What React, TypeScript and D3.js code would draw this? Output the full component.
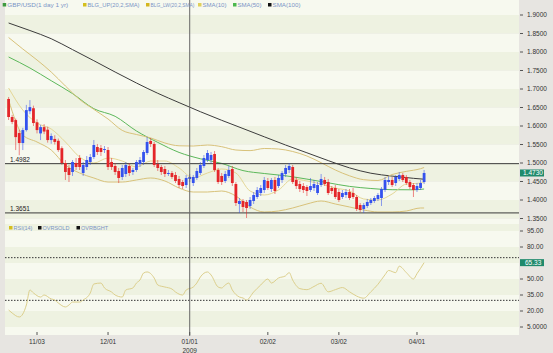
import React from "react";
import * as d3 from "d3";

// GBP/USD daily candles, Oct 22 2008 .. Apr 3 2009 (bar index 0..117)
const open = [
  1.673, 1.6243, 1.616, 1.581, 1.554, 1.589, 1.64, 1.648, 1.61, 1.58,
  1.597, 1.59, 1.562, 1.565, 1.56, 1.54, 1.5, 1.4865, 1.4757, 1.5,
  1.5135, 1.473, 1.4892, 1.5027, 1.5162, 1.5432, 1.5405, 1.5351, 1.5351, 1.5027,
  1.4919, 1.4784, 1.4622, 1.4703, 1.4919, 1.4757, 1.4811, 1.4973, 1.5027, 1.527,
  1.5595, 1.5514, 1.4973, 1.4892, 1.4838, 1.4703, 1.473, 1.4676, 1.4568, 1.4486,
  1.4405, 1.4568, 1.4459, 1.4595, 1.473, 1.4919, 1.5081, 1.5081, 1.5243, 1.4811,
  1.4649, 1.4514, 1.4649, 1.4838, 1.4432, 1.3892, 1.3973, 1.3946, 1.3838, 1.3973,
  1.4081, 1.4189, 1.427, 1.4514, 1.4297, 1.4541, 1.4378, 1.4541, 1.4703, 1.4811,
  1.4892, 1.4541, 1.4432, 1.4378, 1.4351, 1.427, 1.4324, 1.4189, 1.4405, 1.4541,
  1.4486, 1.4324, 1.4324, 1.4216, 1.4081, 1.4135, 1.4216, 1.4189, 1.4081, 1.3865,
  1.3757, 1.3838, 1.3919, 1.3973, 1.4027, 1.4054, 1.427, 1.4486, 1.4541, 1.4459,
  1.4568, 1.4676, 1.4622, 1.4486, 1.4405, 1.427, 1.4324, 1.4486,
];
const high = [
  1.6784, 1.63, 1.62, 1.59, 1.595, 1.657, 1.67, 1.655, 1.618, 1.603,
  1.605, 1.598, 1.58, 1.575, 1.566, 1.545, 1.5081, 1.4946, 1.5081, 1.5135,
  1.5216, 1.5027, 1.5189, 1.5243, 1.5622, 1.5514, 1.5486, 1.5459, 1.5432, 1.5135,
  1.5, 1.4865, 1.4946, 1.5027, 1.5, 1.4865, 1.5081, 1.5162, 1.5351, 1.5703,
  1.5676, 1.5568, 1.5081, 1.4946, 1.4919, 1.4811, 1.4784, 1.4757, 1.4649, 1.4541,
  1.4676, 1.4703, 1.4676, 1.4865, 1.5027, 1.5216, 1.5351, 1.5297, 1.5324, 1.4865,
  1.473, 1.4784, 1.4919, 1.4919, 1.4486, 1.4054, 1.4027, 1.4, 1.4081, 1.4216,
  1.4351, 1.4405, 1.4622, 1.4595, 1.4595, 1.4622, 1.4676, 1.4784, 1.4946, 1.5,
  1.4946, 1.4622, 1.4514, 1.4459, 1.4405, 1.4595, 1.4541, 1.4486, 1.4703, 1.4622,
  1.4568, 1.4378, 1.4405, 1.4297, 1.427, 1.4297, 1.4297, 1.4324, 1.4135, 1.3919,
  1.3919, 1.4027, 1.4054, 1.4108, 1.4189, 1.4351, 1.4622, 1.4649, 1.4622, 1.4676,
  1.4757, 1.473, 1.4676, 1.4541, 1.4459, 1.4459, 1.4541, 1.4811,
];
const low = [
  1.6162, 1.605, 1.535, 1.521, 1.535, 1.585, 1.632, 1.6, 1.58, 1.562,
  1.578, 1.555, 1.552, 1.55, 1.53, 1.495, 1.4541, 1.4486, 1.4649, 1.4811,
  1.4811, 1.4649, 1.4811, 1.4946, 1.5108, 1.5216, 1.5189, 1.527, 1.4811, 1.4811,
  1.4676, 1.4459, 1.4541, 1.4622, 1.4649, 1.4676, 1.4757, 1.4892, 1.4946, 1.5216,
  1.5432, 1.4892, 1.4784, 1.4676, 1.4622, 1.4649, 1.4568, 1.4459, 1.4324, 1.4297,
  1.4324, 1.4486, 1.4378, 1.4541, 1.4676, 1.4865, 1.5027, 1.5, 1.4757, 1.4432,
  1.4405, 1.4459, 1.4595, 1.4378, 1.3838, 1.3649, 1.3676, 1.3514, 1.3757, 1.3892,
  1.4027, 1.4108, 1.4189, 1.427, 1.4216, 1.4162, 1.4324, 1.4459, 1.4622, 1.473,
  1.4432, 1.4297, 1.4216, 1.4189, 1.4108, 1.4216, 1.4243, 1.4135, 1.4351, 1.4378,
  1.4135, 1.4162, 1.4027, 1.3946, 1.4027, 1.4054, 1.4, 1.4027, 1.3703, 1.3676,
  1.3649, 1.3784, 1.3865, 1.3919, 1.3973, 1.3838, 1.4216, 1.4405, 1.4351, 1.4378,
  1.4514, 1.4486, 1.4405, 1.4297, 1.4081, 1.4216, 1.427, 1.4432,
];
const close = [
  1.6243, 1.611, 1.57, 1.554, 1.589, 1.643, 1.651, 1.608, 1.589, 1.597,
  1.585, 1.562, 1.573, 1.557, 1.535, 1.5, 1.4757, 1.4676, 1.5027, 1.4892,
  1.4892, 1.4946, 1.5081, 1.5162, 1.5486, 1.5297, 1.5297, 1.5378, 1.4892, 1.4892,
  1.4757, 1.4595, 1.4865, 1.4946, 1.473, 1.4811, 1.5027, 1.5081, 1.5297, 1.5568,
  1.5514, 1.4946, 1.4865, 1.4757, 1.4703, 1.473, 1.4622, 1.4514, 1.4405, 1.4378,
  1.4595, 1.4622, 1.4622, 1.4784, 1.4946, 1.5135, 1.527, 1.5216, 1.4811, 1.4486,
  1.4486, 1.4703, 1.4811, 1.4459, 1.3919, 1.3973, 1.3811, 1.3784, 1.4, 1.4135,
  1.427, 1.4324, 1.4541, 1.4324, 1.4541, 1.4243, 1.4595, 1.473, 1.4865, 1.4919,
  1.4486, 1.4378, 1.4297, 1.427, 1.4243, 1.4378, 1.4432, 1.4405, 1.4568, 1.4432,
  1.4189, 1.4243, 1.4081, 1.4, 1.4189, 1.4216, 1.4054, 1.4081, 1.3757, 1.373,
  1.3865, 1.3946, 1.4, 1.4054, 1.4135, 1.4297, 1.4541, 1.4541, 1.4405, 1.4622,
  1.4676, 1.4541, 1.4459, 1.4351, 1.427, 1.4378, 1.4459, 1.473,
];

// indicator readings (bar index -> value)
const bandBars = [0, 4, 8, 12, 16, 20, 24, 28, 32, 36, 40, 44, 48, 52, 56, 60, 64, 68, 72, 76, 80, 84, 88, 92, 96, 100, 104, 108, 112, 116, 117];
const bollUpper = [
  1.8392, 1.8081, 1.7784, 1.7459, 1.7081, 1.6716, 1.6449, 1.6189, 1.5881, 1.577,
  1.5678, 1.5541, 1.5465, 1.5459, 1.5486, 1.5441, 1.5351, 1.5335, 1.5392, 1.5378,
  1.5311, 1.5189, 1.5008, 1.4811, 1.4654, 1.4549, 1.4527, 1.4689, 1.4773, 1.4846, 1.4878,
];
const bollLower = [
  1.6703, 1.5757, 1.5568, 1.5351, 1.4946, 1.473, 1.4595, 1.4486, 1.4486, 1.4541,
  1.4595, 1.4514, 1.4324, 1.4216, 1.4216, 1.4243, 1.4108, 1.3811, 1.3676, 1.3703,
  1.3784, 1.3892, 1.3973, 1.3892, 1.3811, 1.373, 1.3676, 1.3676, 1.3703, 1.3784, 1.3784,
];
const sma10 = [
  1.7027, 1.6432, 1.6081, 1.5919, 1.5568, 1.5162, 1.5, 1.5135, 1.5054, 1.4892,
  1.5054, 1.5054, 1.4865, 1.4595, 1.473, 1.4838, 1.473, 1.4243, 1.4135, 1.427,
  1.4568, 1.4514, 1.4432, 1.4324, 1.4243, 1.4027, 1.4, 1.4162, 1.4432, 1.4459, 1.4486,
];
const smaBars = [0, 6, 12, 18, 24, 30, 36, 42, 48, 54, 60, 66, 72, 78, 84, 90, 96, 102, 108, 114, 117];
const sma50 = [
  1.7865, 1.7568, 1.7224, 1.6876, 1.6468, 1.6262, 1.5865, 1.5557, 1.5286, 1.5114,
  1.4989, 1.4795, 1.4716, 1.4654, 1.4565, 1.4465, 1.4368, 1.4311, 1.4278, 1.4276, 1.4297,
];
const sma100 = [
  1.8784, 1.8581, 1.8359, 1.8065, 1.7765, 1.7459, 1.7162, 1.6884, 1.6632, 1.6386,
  1.6154, 1.5932, 1.5708, 1.5486, 1.5276, 1.5065, 1.4868, 1.4724, 1.4646, 1.4586, 1.4562,
];
const rsiBars = [
  0, 1, 3, 5, 6, 7, 9, 10, 12, 13, 14, 16, 17, 18, 20, 21, 23, 24, 26, 27,
  29, 30, 32, 33, 35, 36, 37, 38, 39, 41, 42, 44, 46, 47, 49, 50, 52, 53, 54, 56,
  57, 59, 60, 61, 62, 63, 65, 66, 67, 69, 71, 73, 74, 76, 78, 79, 80, 82, 84, 86,
  88, 90, 92, 94, 96, 98, 100, 102, 104, 106, 107, 109, 110, 112, 114, 115, 116, 117,
];
const rsi14 = [
  20.9, 18.1, 14.4, 25.6, 39.7, 36.9, 33.1, 35.0, 31.3, 30.3, 27.5, 23.8, 25.6, 28.4, 28.4, 30.3, 36.9, 45.3, 46.2, 41.6,
  37.8, 35.0, 33.1, 39.7, 41.6, 46.2, 49.1, 55.6, 56.6, 50.9, 44.4, 42.5, 40.6, 37.8, 35.0, 39.7, 42.5, 46.2, 51.9, 56.6,
  53.8, 42.5, 41.6, 44.4, 46.2, 39.7, 33.1, 32.2, 30.3, 37.8, 44.4, 50.0, 46.2, 50.9, 53, 56, 49, 41, 40, 43,
  46, 38, 40, 42, 38, 34, 32, 38, 45, 54, 58, 56, 62, 56, 50, 55, 60, 65.33,
];

const levelValues = [1.4982, 1.3651];
const rsiLevels = [70, 30];
const priceTicks = [1.35, 1.4, 1.45, 1.5, 1.55, 1.6, 1.65, 1.7, 1.75, 1.8, 1.85, 1.9];
const rsiTicks = [5, 20, 35, 50, 65, 80, 95];
const dateLabels = ["11/03", "12/01", "01/01", "02/02", "03/02", "04/01"];
const dateBars = [8, 28, 51, 73, 93, 115];
const legendLabels = ["GBP/USD(1 day  1 yr)", "BLG_UP(20,2,SMA)", "BLG_LW(20,2,SMA)", "SMA(10)", "SMA(50)", "SMA(100)"];
const rsiLegendLabels = ["RSI(14)", "OVRSOLD", "OVRBGHT"];

const FONT = "'Liberation Sans', Arial, sans-serif";

export default function App() {
  const plotL = 5, plotR = 519, priceTop = 0, priceBot = 224, rsiBot = 335;

  const x = d3.scaleLinear().domain([0, 117]).range([8.6, 424.1]);
  const y = d3.scaleLinear().domain([1.35, 1.9]).range([218.5, 15]);
  const yr = d3.scaleLinear().domain([5, 95]).range([327, 231]);

  const lineOf = (bars: number[], scale: (v: number) => number) =>
    d3
      .line<number>()
      .x((_, k) => x(bars[k]))
      .y((v) => scale(v))
      .curve(d3.curveMonotoneX);

  // alternating background stripes
  const priceBands = d3.range(1.3, 1.95, 0.05).map((v, k) => {
    const y0 = Math.max(priceTop, y(v + 0.05));
    const y1 = Math.min(priceBot, y(v));
    return { y0, y1, k };
  }).filter((b) => b.y1 > b.y0);
  const rsiBands = d3.range(-10, 110, 15).map((v, k) => {
    const y0 = Math.max(priceBot, yr(v + 15));
    const y1 = Math.min(rsiBot, yr(v));
    return { y0, y1, k };
  }).filter((b) => b.y1 > b.y0);

  const legendX = [2.7, 83, 146, 198, 233, 268];
  const legendW = [61, 52, 44, 24, 24, 28];
  const legendColors = ["#3f9b3f", "#d4bf1e", "#d4b61e", "#e0d05a", "#4cb84c", "#111111"];
  const rsiLegendX = [9, 38, 76.5];
  const rsiLegendColors = ["#d4bf1e", "#111111", "#111111"];

  const up = "#3452ee";
  const down = "#e4262a";
  const lastClose = close[close.length - 1];
  const lastRsi = rsi14[rsi14.length - 1];

  return (
    <svg
      width={553}
      height={353}
      style={{ position: "fixed", left: 0, top: 0, fontFamily: FONT }}
    >
      <rect width={553} height={353} fill="#e7e5e1" />
      {/* plot backgrounds */}
      {priceBands.map((b) => (
        <rect key={"pb" + b.k} x={plotL} y={b.y0} width={plotR - plotL} height={b.y1 - b.y0}
          fill={b.k % 2 === 0 ? "#f7f9ef" : "#eef2e1"} />
      ))}
      {rsiBands.map((b) => (
        <rect key={"rb" + b.k} x={plotL} y={b.y0} width={plotR - plotL} height={b.y1 - b.y0}
          fill={b.k % 2 === 0 ? "#f7f9ef" : "#eef2e1"} />
      ))}

      {/* indicator lines */}
      <path d={lineOf(smaBars, y)(sma100) ?? ""} fill="none" stroke="#3c3c3c" strokeWidth={1} />
      <path d={lineOf(smaBars, y)(sma50) ?? ""} fill="none" stroke="#5cb85a" strokeWidth={1} />
      <path d={lineOf(bandBars, y)(bollUpper) ?? ""} fill="none" stroke="#d8c27a" strokeWidth={1} />
      <path d={lineOf(bandBars, y)(bollLower) ?? ""} fill="none" stroke="#d8c27a" strokeWidth={1} />
      <path d={lineOf(bandBars, y)(sma10) ?? ""} fill="none" stroke="#e4d796" strokeWidth={1} />

      {/* level lines */}
      {levelValues.map((v) => (
        <g key={"lv" + v}>
          <line x1={plotL} x2={plotR} y1={y(v)} y2={y(v)} stroke="#3a3a3a" strokeWidth={1} />
          <text x={10} y={y(v) - 1.5} fontSize={6.5} fill="#222">{v.toFixed(4)}</text>
        </g>
      ))}

      {/* candles */}
      {close.map((c, i) => {
        const o = open[i];
        const col = c >= o ? up : down;
        const top = y(Math.max(o, c));
        const h = Math.max(1, Math.abs(y(o) - y(c)));
        return (
          <g key={"c" + i}>
            <line x1={x(i)} x2={x(i)} y1={y(high[i])} y2={y(low[i])} stroke={col} strokeOpacity={0.55} strokeWidth={1} />
            <rect x={x(i) - 1.4} y={top} width={2.8} height={h} fill={col} />
          </g>
        );
      })}

      {/* RSI */}
      {rsiLevels.map((v) => (
        <line key={"rl" + v} x1={plotL} x2={plotR} y1={yr(v)} y2={yr(v)} stroke="#333" strokeWidth={1} strokeDasharray="1.5,1.5" />
      ))}
      <path d={lineOf(rsiBars, yr)(rsi14) ?? ""} fill="none" stroke="#dccf8c" strokeWidth={1} />

      {/* year divider */}
      <line x1={x(51)} x2={x(51)} y1={0} y2={336} stroke="#666" strokeWidth={1} />

      {/* legends */}
      {legendLabels.map((l, k) => (
        <g key={"lg" + k}>
          <rect x={legendX[k]} y={3} width={3.5} height={3.5} fill={legendColors[k]} />
          <text x={legendX[k] + 4.5} y={7} fontSize={5.5} fill="#7a94c6"
            textLength={legendW[k]} lengthAdjust="spacingAndGlyphs">{l}</text>
        </g>
      ))}
      {rsiLegendLabels.map((l, k) => (
        <g key={"rlg" + k}>
          <rect x={rsiLegendX[k]} y={226} width={3.5} height={3.5} fill={rsiLegendColors[k]} />
          <text x={rsiLegendX[k] + 4.5} y={230} fontSize={5.5} fill="#7a94c6">{l}</text>
        </g>
      ))}

      {/* right axis */}
      {priceTicks.map((v) => (
        <g key={"pt" + v}>
          <line x1={520} x2={523} y1={y(v)} y2={y(v)} stroke="#555" />
          <text x={527} y={y(v) + 2.2} fontSize={6.5} fill="#333">{v.toFixed(4)}</text>
        </g>
      ))}
      {rsiTicks.map((v) => (
        <g key={"rt" + v}>
          <line x1={520} x2={523} y1={yr(v)} y2={yr(v)} stroke="#555" />
          {Math.abs(yr(v) - yr(lastRsi)) > 6 && (
            <text x={527} y={yr(v) + 2.2} fontSize={6.5} fill="#333">{v === 5 ? "5.0000" : v.toFixed(2)}</text>
          )}
        </g>
      ))}
      <rect x={520} y={y(lastClose) - 3.5} width={24} height={7} fill="#1f8a6c" />
      <text x={523} y={y(lastClose) + 2.2} fontSize={6.5} fill="#fff">{lastClose.toFixed(4)}</text>
      <rect x={520} y={yr(lastRsi) - 3.5} width={24} height={7} fill="#1f8a6c" />
      <text x={525} y={yr(lastRsi) + 2.2} fontSize={6.5} fill="#fff">{lastRsi.toFixed(2)}</text>

      {/* bottom axis */}
      {dateBars.map((b, k) => (
        <g key={"dt" + k}>
          <line x1={x(b)} x2={x(b)} y1={332} y2={335} stroke="#555" />
          <text x={x(b)} y={344} fontSize={6.5} fill="#333" textAnchor="middle">{dateLabels[k]}</text>
        </g>
      ))}
      <text x={x(51)} y={352.5} fontSize={6.5} fill="#333" textAnchor="middle">2009</text>
    </svg>
  );
}
